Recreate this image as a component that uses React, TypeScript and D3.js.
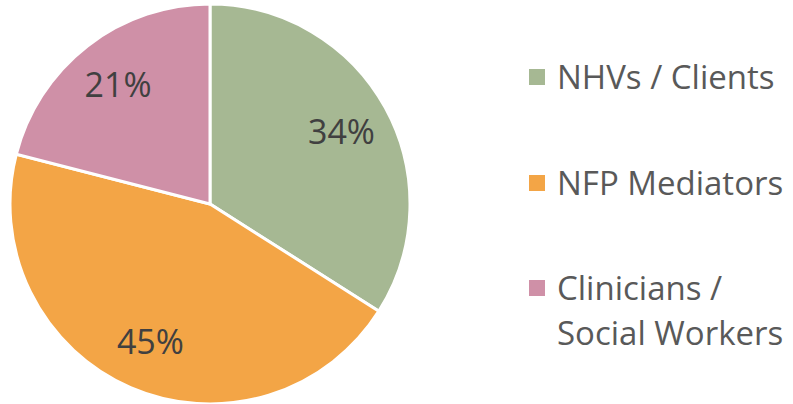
import React, { useRef, useEffect } from "react";
import * as d3 from "d3";

const categories = ["NHVs / Clients", "NFP Mediators", "Clinicians / Social Workers"];
const values = [34, 45, 21];
const legendLines = [["NHVs / Clients"], ["NFP Mediators"], ["Clinicians /", "Social Workers"]];
const colors = ["#a6b893", "#f3a546", "#cf90a7"];

const App = () => {
    const svgRef = useRef<SVGSVGElement | null>(null);

    useEffect(() => {
        const svg = d3.select(svgRef.current);
        svg.selectAll("*").remove();

        const width = 793;
        const height = 404;
        const cx = 210;
        const cy = 204;
        const radius = 200;

        const data = categories.map((c, i) => ({ label: c, value: values[i], color: colors[i] }));

        const pie = d3.pie<any>().value(d => d.value).sort(null);
        const arc = d3.arc<any>().innerRadius(0).outerRadius(radius);
        const labelArc = d3.arc<any>().innerRadius(radius * 0.75).outerRadius(radius * 0.75);

        svg.append("rect").attr("width", width).attr("height", height).attr("fill", "#fff");

        const g = svg.append("g").attr("transform", `translate(${cx},${cy})`);
        const arcs = pie(data);

        g.selectAll("path")
            .data(arcs)
            .enter()
            .append("path")
            .attr("d", arc)
            .attr("fill", d => d.data.color)
            .attr("stroke", "#fff")
            .attr("stroke-width", 3);

        g.selectAll("text.pct")
            .data(arcs)
            .enter()
            .append("text")
            .attr("class", "pct")
            .attr("transform", d => `translate(${labelArc.centroid(d)})`)
            .attr("text-anchor", "middle")
            .attr("dy", "0.35em")
            .style("font-family", "'Open Sans', sans-serif")
            .style("font-size", "34px")
            .attr("fill", "#404040")
            .text(d => `${d.data.value}%`);

        // Legend
        const ly = [77, 183, 288];
        const legend = svg.append("g");
        legendLines.forEach((lines, i) => {
            legend.append("rect")
                .attr("x", 529)
                .attr("y", ly[i] - 8)
                .attr("width", 16)
                .attr("height", 16)
                .attr("fill", colors[i]);
            lines.forEach((line, j) => {
                legend.append("text")
                    .attr("x", 557)
                    .attr("y", ly[i] + j * 45)
                    .attr("dy", "0.35em")
                    .style("font-family", "'Open Sans', sans-serif")
                    .style("font-size", "33px")
                    .attr("fill", "#595959")
                    .text(line);
            });
        });
    }, []);

    return (
        <svg
            ref={svgRef}
            width={793}
            height={404}
            style={{ position: "absolute", left: 0, top: 0, display: "block" }}
        />
    );
};

export default App;
